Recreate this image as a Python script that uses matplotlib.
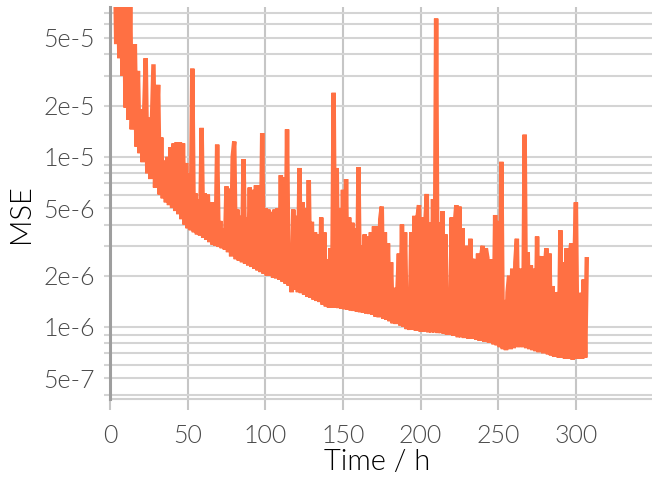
import matplotlib
matplotlib.use("Agg")
import matplotlib.pyplot as plt
from matplotlib.ticker import FixedLocator, NullFormatter

# MSE values (in units of 1e-6), one per hour starting at t = 3 h
mse_e6 = [
    200, 46, 150, 38, 120, 30, 100, 19.5, 90, 16.5,
    85, 14.5, 28, 46, 11.5, 32, 10.5, 19, 9.3, 18,
    38, 8.0, 17, 7.4, 16, 35, 6.6, 15, 26.5, 6.0,
    13, 5.7, 9.5, 5.4, 10, 5.2, 11.4, 5.0, 12, 4.8,
    12.2, 4.6, 12.2, 4.3, 12, 4.0, 9.2, 3.8, 8, 3.7,
    33, 3.6, 6.1, 3.5, 5.6, 3.45, 14.8, 3.35, 6.1, 3.25,
    6.0, 3.15, 5.4, 3.05, 5.4, 3.0, 11.8, 2.95, 4.2, 2.9,
    3.8, 2.85, 6.7, 2.75, 6.5, 2.6, 10, 12.3, 2.5, 4.9,
    2.45, 4.5, 2.4, 9.7, 2.35, 4.4, 2.3, 6.6, 2.25, 6.4,
    2.2, 6.8, 2.15, 6.8, 2.1, 13.8, 2.05, 5.0, 2.0, 4.9,
    2.0, 4.75, 1.95, 4.9, 1.93, 5.0, 1.9, 7.8, 1.85, 7.6,
    1.8, 14.5, 1.75, 2.6, 1.6, 4.9, 1.65, 4.5, 1.6, 8.6,
    1.58, 5.4, 1.55, 5.0, 1.5, 7.3, 1.48, 4.15, 1.45, 3.6,
    1.42, 3.5, 1.4, 4.4, 1.35, 3.6, 1.32, 2.5, 1.3, 2.9,
    1.3, 23.8, 1.3, 8.6, 1.29, 5.0, 1.28, 6.4, 1.27, 7.4,
    1.26, 4.4, 1.25, 4.1, 1.24, 3.8, 1.23, 8.7, 1.22, 3.0,
    1.21, 3.5, 1.2, 3.4, 1.19, 3.6, 1.18, 3.9, 1.15, 3.9,
    1.14, 4.3, 5.1, 1.12, 3.6, 1.1, 3.1, 1.08, 2.4, 1.05,
    1.7, 1.04, 1.58, 2.7, 1.02, 4.0, 1.0, 3.6, 0.97, 1.31,
    0.96, 3.6, 0.96, 4.5, 0.95, 4.4, 5.2, 0.94, 4.4, 0.94,
    4.0, 6.05, 0.93, 4.1, 0.93, 5.65, 0.93, 65, 0.92, 4.1,
    0.92, 4.8, 0.91, 3.5, 0.9, 1.65, 0.9, 4.4, 0.89, 4.0,
    5.2, 0.87, 5.1, 0.87, 3.8, 0.86, 3.0, 2.25, 0.85, 3.3,
    0.85, 2.4, 2.5, 0.84, 2.7, 0.83, 2.6, 3.0, 0.82, 2.9,
    2.55, 0.81, 2.5, 2.1, 0.79, 4.55, 0.78, 4.2, 0.76, 9.35,
    0.74, 1.44, 0.73, 1.6, 2.0, 0.74, 2.2, 0.75, 2.4, 3.3,
    0.76, 2.2, 1.9, 0.76, 13.5, 0.75, 2.75, 0.74, 2.3, 0.73,
    2.2, 0.72, 3.4, 0.71, 2.4, 2.6, 0.7, 2.2, 2.9, 0.69,
    2.7, 0.68, 1.74, 0.67, 1.6, 1.4, 0.66, 3.7, 0.66, 2.4,
    0.65, 2.9, 0.65, 2.6, 3.1, 0.64, 2.2, 5.4, 0.65, 1.58,
    1.5, 0.65, 1.9, 0.66, 2.5,
]
start_hour = 3
hours = list(range(start_hour, start_hour + len(mse_e6)))
mse = [v * 1e-6 for v in mse_e6]

y_major = [5e-7, 1e-6, 2e-6, 5e-6, 1e-5, 2e-5, 5e-5]
y_major_labels = ["5e-7", "1e-6", "2e-6", "5e-6", "1e-5", "2e-5", "5e-5"]
y_minor = [k * 10.0 ** e for e in (-7, -6, -5) for k in range(1, 10)
           if not any(abs(k * 10.0 ** e - m) < 1e-12 for m in y_major)]
x_ticks = [0, 50, 100, 150, 200, 250, 300]

fig = plt.figure(figsize=(6.52, 4.78), dpi=100)
ax = fig.add_axes([110 / 652, 79 / 478, 542 / 652, 392 / 478])

ax.plot(hours, mse, color="#FF7043", lw=3.2, solid_joinstyle="bevel", zorder=3)

ax.set_yscale("log")
ax.set_ylim(3.77e-7, 7.6e-5)
ax.set_xlim(0, 349)

ax.yaxis.set_major_locator(FixedLocator(y_major))
ax.yaxis.set_minor_locator(FixedLocator(y_minor))
ax.yaxis.set_minor_formatter(NullFormatter())
ax.set_yticklabels(y_major_labels)
ax.set_xticks(x_ticks)
ax.set_xticklabels([str(t) for t in x_ticks])

ax.grid(which="both", axis="y", color="#d4d4d4", lw=1.5, zorder=0)
ax.grid(which="major", axis="x", color="#c6c6c6", lw=1.5, zorder=0)

for lab in ax.get_xticklabels() + ax.get_yticklabels():
    lab.set_fontfamily(["Lato", "DejaVu Sans"])
    lab.set_fontweight(300)
    lab.set_fontsize(18)

ax.tick_params(axis="y", which="both", length=4.3, width=1.5, color="#d4d4d4",
               labelcolor="#4a4a4a", pad=6.5)
ax.tick_params(axis="x", which="major", length=7.9, width=1.5, color="#c6c6c6",
               labelcolor="#4a4a4a", pad=10)
ax.tick_params(axis="x", which="minor", length=0)

for s in ("top", "right"):
    ax.spines[s].set_visible(False)
ax.spines["left"].set_color("#9e9e9e")
ax.spines["left"].set_linewidth(2.2)
ax.spines["left"].set_zorder(4)
ax.spines["bottom"].set_color("#d0d0d0")
ax.spines["bottom"].set_linewidth(1.5)

label_font = dict(family=["Lato", "DejaVu Sans"], size=21, color="black",
                  weight=300)
ax.set_xlabel("Time / h", labelpad=1, **label_font)
ax.set_ylabel("MSE", labelpad=7, **label_font)
ax.xaxis.label.set_x(0.493)
ax.yaxis.label.set_y(0.472)

fig.savefig("out.png", dpi=100)
